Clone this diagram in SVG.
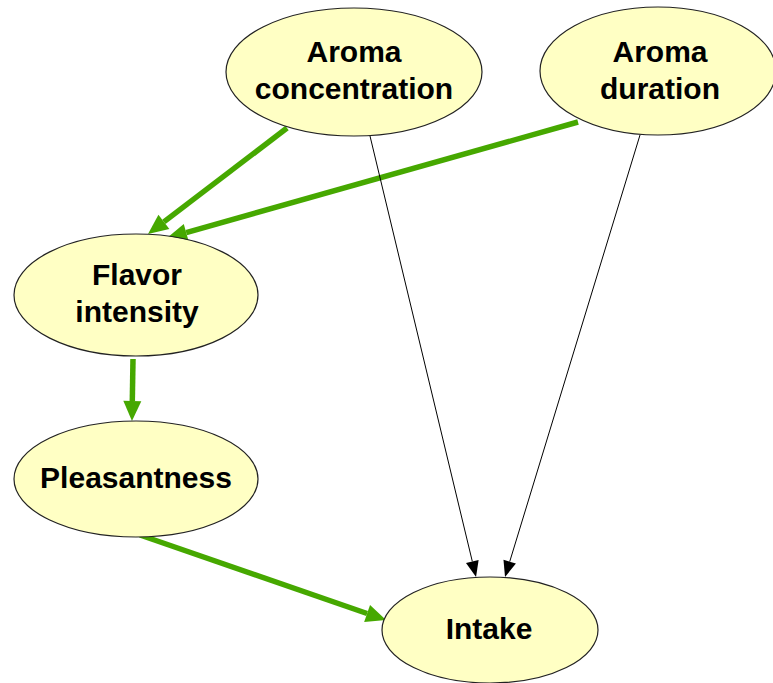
<svg xmlns="http://www.w3.org/2000/svg" width="773" height="683" viewBox="0 0 773 683">
  <style>
    .node ellipse { fill: #ffffc4; stroke: #222; stroke-width: 1.2; }
    .node text { font-family: "Liberation Sans", Arial, sans-serif; font-weight: bold; font-size: 30px; fill: #000; text-anchor: middle; }
    .strong { stroke: #46a800; stroke-width: 5.5; fill: none; }
    .weak { stroke: #000; stroke-width: 1; fill: none; }
  </style>
  <defs>
    <marker id="headGreen" markerUnits="userSpaceOnUse" markerWidth="24" markerHeight="22" viewBox="-1 -11 23 22" refX="0" refY="0" orient="auto">
      <path d="M0,-9 L20,0 L0,9 z" fill="#46a800"/>
    </marker>
    <marker id="headBlack" markerUnits="userSpaceOnUse" markerWidth="20" markerHeight="16" viewBox="-1 -8 19 16" refX="0" refY="0" orient="auto">
      <path d="M0,-6.5 L16,0 L0,6.5 z" fill="#000"/>
    </marker>
  </defs>
  <rect width="773" height="683" fill="#fff"/>

  <g id="connectors">
    <path class="strong" d="M287,128 L163.9,221.9" marker-end="url(#headGreen)"/>
    <path class="strong" d="M578,122 L186.2,232.6" marker-end="url(#headGreen)"/>
    <path class="strong" d="M133,359 L132.3,401" marker-end="url(#headGreen)"/>
    <path class="strong" d="M140,535 L367.1,613.5" marker-end="url(#headGreen)"/>
    <path class="weak" d="M370,136 L472.3,561.4" marker-end="url(#headBlack)"/>
    <path class="weak" d="M640,135 L509.7,561.7" marker-end="url(#headBlack)"/>
  </g>

  <g id="aroma-concentration" class="node">
    <ellipse cx="354" cy="72" rx="128" ry="64"/>
    <text x="354" y="62">Aroma</text>
    <text x="354" y="99">concentration</text>
  </g>
  <g id="aroma-duration" class="node">
    <ellipse cx="658" cy="71" rx="118" ry="64"/>
    <text x="660" y="62">Aroma</text>
    <text x="660" y="99">duration</text>
  </g>
  <g id="flavor-intensity" class="node">
    <ellipse cx="136" cy="295" rx="122" ry="61"/>
    <text x="137" y="285">Flavor</text>
    <text x="137" y="322">intensity</text>
  </g>
  <g id="pleasantness" class="node">
    <ellipse cx="136" cy="479" rx="122" ry="58"/>
    <text x="136" y="488">Pleasantness</text>
  </g>
  <g id="intake" class="node">
    <ellipse cx="490" cy="630" rx="108" ry="53"/>
    <text x="489" y="639">Intake</text>
  </g>
</svg>
